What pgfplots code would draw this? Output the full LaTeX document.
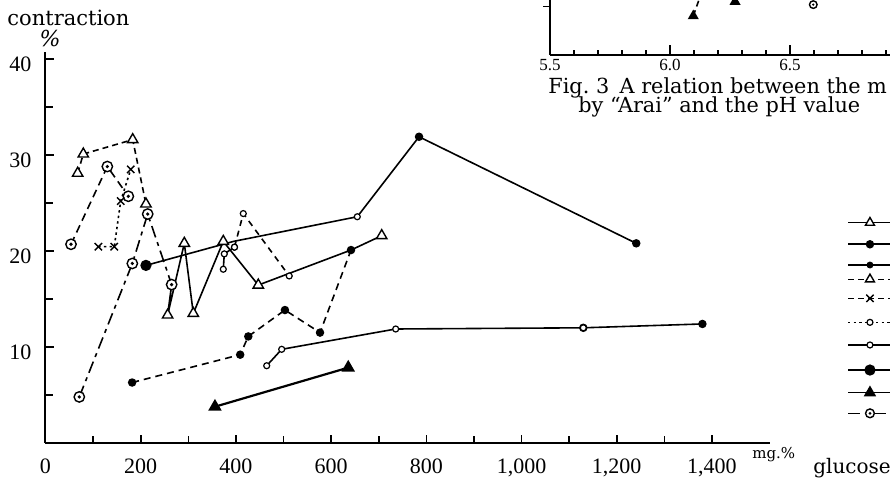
\documentclass[border=0pt]{standalone}
\usepackage{fontspec}
\setmainfont{DejaVu Serif}
\newfontfamily\tickfont{Liberation Serif}
\usepackage{pgfplots}
\pgfplotsset{compat=1.18}
\pgfdeclareplotmark{odot}{%
  \pgfsetfillcolor{white}%
  \pgfpathcircle{\pgfpointorigin}{\pgfplotmarksize}%
  \pgfusepathqfillstroke
  \pgfsetfillcolor{black}%
  \pgfpathcircle{\pgfpointorigin}{0.35\pgfplotmarksize}%
  \pgfusepathqfill}
\tikzset{
  otri/.style={mark=triangle*, mark size=3pt, mark options={solid, fill=white, line width=0.7pt}},
  ftri/.style={mark=triangle*, mark size=2.8pt, mark options={solid, fill=black}},
  ocir/.style={mark=*, mark size=1.5pt, mark options={solid, fill=white, line width=0.6pt}},
  fdot/.style={mark=*, mark size=1.7pt, mark options={solid, fill=black}},
  bdot/.style={mark=*, mark size=2.4pt, mark options={solid, fill=black}},
  odt/.style={mark=odot, mark size=2.6pt, mark options={solid, line width=0.7pt}},
  xm/.style={mark=x, mark size=2.6pt, mark options={solid, line width=0.7pt}},
  dshA/.style={dash pattern=on 3pt off 2pt},
  dshB/.style={dash pattern=on 4pt off 2.5pt},
  dotA/.style={dash pattern=on 1.2pt off 1.6pt},
  ldsh/.style={dash pattern=on 6pt off 2.5pt on 2pt off 2.5pt},
}
\begin{document}
\begin{tikzpicture}
\path[use as bounding box] (0,0) rectangle (445pt,240.5pt);
\clip (0,0) rectangle (445pt,240.5pt);
\begin{axis}[
  at={(22.75pt,19pt)}, anchor=south west,
  scale only axis, width=362.25pt, height=195.35pt,
  xmin=0, xmax=1522, ymin=0, ymax=40.7,
  axis x line=bottom, axis y line=left,
  axis line style={-, line width=1pt},
  xtick={0,200,...,1400},
  xticklabels={0,200,400,600,800,{1,000},{1,200},{1,400}},
  minor xtick={100,300,...,1300},
  ytick={10,20,30,40}, minor ytick={5,15,25,35},
  tick align=inside, major tick length=4pt, minor tick length=3.5pt,
  tick style={black, line width=0.8pt},
  /pgf/number format/assume math mode=true,
  tick label style={font=\tickfont\fontsize{11}{12}\selectfont},
  xticklabel style={yshift=-4.5pt},
  yticklabel style={xshift=-3.5pt, yshift=-2.5pt},
  clip=false,
  every axis plot/.append style={line width=0.8pt, black},
]
\addplot[dshA, otri] coordinates {(67.6,28.1)(79.4,30.1)(183.2,31.6)(211,24.9)};
\addplot[dshB, odt] coordinates {(53.6,20.7)(129.9,28.8)(174,25.7)};
\addplot[dotA, xm] coordinates {(111,20.45)(144.5,20.45)(158,25.2)(179,28.5)};
\addplot[ldsh, odt] coordinates {(71,4.8)(182.4,18.7)(214.7,23.85)(265,16.5)};
\addplot[solid, otri, mark indices={2,3,4,5,6,8}] coordinates {(265,16.5)(256.6,13.33)(291.6,20.8)(310.5,13.5)(373.5,21.0)(447,16.45)(641.8,20.1)(706.3,21.6)};
\addplot[dash pattern=on 3.5pt off 2.5pt, fdot] coordinates {(182,6.3)(409,9.2)(426,11.1)(503,13.85)(576.7,11.5)(641.8,20.1)};
\addplot[solid] coordinates {(211,18.5)(395,21.0)(655,23.57)(784.7,31.9)(1241,20.8)};
\addplot[only marks, bdot] coordinates {(211,18.5)};
\addplot[only marks, ocir] coordinates {(655,23.57)};
\addplot[only marks, fdot] coordinates {(784.7,31.9)(1241,20.8)};
\addplot[solid, ocir] coordinates {(373.5,18.1)(375.6,19.7)(397,20.4)};
\addplot[dash pattern=on 3pt off 2.5pt, ocir] coordinates {(397,20.4)(415.5,23.9)(512,17.4)};
\addplot[solid, ocir] coordinates {(464.7,8.05)(496.2,9.76)(735.7,11.875)(1129.8,12.0)};
\addplot[solid, fdot] coordinates {(1129.8,12.0)(1380,12.4)};
\addplot[only marks, ocir] coordinates {(1129.8,12.0)};
\addplot[solid, ftri, line width=1.1pt] coordinates {(356,3.78)(636,7.85)};
% legend symbols
\addplot[solid, otri, mark size=2.6pt, mark indices={2}] coordinates {(1686,22.95)(1732,22.95)(1790,22.95)};
\addplot[solid, fdot, mark indices={2}] coordinates {(1686,20.70)(1732,20.70)(1790,20.70)};
\addplot[solid, fdot, mark size=1.3pt, mark indices={2}] coordinates {(1686,18.54)(1732,18.54)(1790,18.54)};
\addplot[dshA, otri, mark size=2.6pt, mark indices={2}] coordinates {(1686,17.05)(1732,17.05)(1790,17.05)};
\addplot[dshA, xm, mark indices={2}] coordinates {(1686,15.07)(1732,15.07)(1790,15.07)};
\addplot[dotA, ocir, mark indices={2}] coordinates {(1686,12.57)(1732,12.57)(1790,12.57)};
\addplot[solid, ocir, mark indices={2}] coordinates {(1686,10.21)(1732,10.21)(1790,10.21)};
\addplot[solid, bdot, mark indices={2}] coordinates {(1686,7.60)(1732,7.60)(1790,7.60)};
\addplot[solid, ftri, mark indices={2}] coordinates {(1686,5.24)(1732,5.24)(1790,5.24)};
\addplot[ldsh, odt, mark size=2.2pt, mark indices={2}] coordinates {(1686,3.09)(1732,3.09)(1790,3.09)};
\end{axis}
\begin{axis}[
  at={(275pt,213pt)}, anchor=south west,
  scale only axis, width=180pt, height=37.5pt,
  xmin=5.5, xmax=7.0, ymin=0, ymax=15.5,
  axis x line=bottom, axis y line=left,
  axis line style={-, line width=1pt},
  xtick={5.5,6.0,6.5,7.0}, xticklabels={5{.}5,6{.}0,6{.}5,7{.}0},
  minor xtick={5.6,5.7,5.8,5.9,6.1,6.2,6.3,6.4,6.6,6.7,6.8,6.9},
  ytick=\empty,
  tick align=inside, major tick length=5pt, minor tick length=2.6pt,
  tick style={black, line width=0.8pt},
  /pgf/number format/assume math mode=true,
  tick label style={font=\tickfont\fontsize{8.5}{9}\selectfont, inner sep=1pt},
  xticklabel style={yshift=-1pt},
  clip=false,
  every axis plot/.append style={line width=0.8pt, black},
]
\addplot[dshA] coordinates {(6.097,8.07)(6.15,15.5)};
\addplot[only marks, ftri, mark size=2.4pt] coordinates {(6.097,8.07)(6.271,11.03)};
\addplot[only marks, odt, mark size=1.9pt] coordinates {(6.597,10.41)};
\draw[line width=0.8pt] (axis cs:5.5,10) -- ([xshift=-3.5pt]axis cs:5.5,10);
\end{axis}
\node[anchor=base west, inner sep=0, font=\fontsize{10.5}{12}\selectfont] at (3.5pt,227.5pt) {contraction};
\node[anchor=center, inner sep=0, font=\itshape\fontsize{11}{13}\selectfont] at (25pt,221pt) {\%};
\node[anchor=base west, inner sep=0, font=\fontsize{7.5}{9}\selectfont] at (376pt,11pt) {mg.\%};
\node[anchor=base west, inner sep=0, font=\fontsize{10}{12}\selectfont] at (406.5pt,3.5pt) {glucose};
\node[anchor=base west, inner sep=0, font=\fontsize{10.4}{13}\selectfont] at (274pt,193.5pt) {Fig.~3\enspace A relation between the m};
\node[anchor=base west, inner sep=0, font=\fontsize{10.4}{13}\selectfont] at (289pt,184pt) {by “Arai” and the pH value};
\end{tikzpicture}
\end{document}
